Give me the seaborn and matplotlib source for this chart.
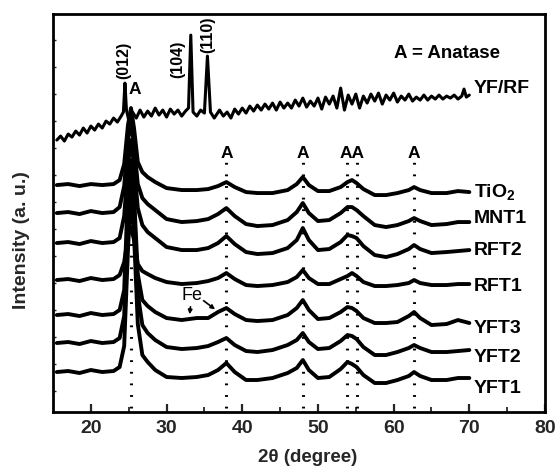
import numpy as np
import pandas as pd
import matplotlib
matplotlib.use("Agg")
import matplotlib.pyplot as plt
import seaborn as sns

sns.set_theme(style="ticks")
plt.rcParams["font.family"] = ["Liberation Sans", "DejaVu Sans"]
plt.rcParams["mathtext.fontset"] = "custom"
plt.rcParams["mathtext.rm"] = "Liberation Sans:bold"
plt.rcParams["mathtext.bf"] = "Liberation Sans:bold"

# ---------------- data (2theta in degree, intensity in a.u.) ----------------
two_theta = [15.5, 17, 18.5, 20, 21.5, 23, 23.8, 24.4, 24.9, 25.3, 25.7, 26.2, 26.8, 27.5,
             28.5, 30, 32, 34, 35.5, 36.8, 37.9, 39, 40.5, 42, 44, 46, 47.2, 48.0, 48.8,
             50, 51.5, 53, 53.9, 54.5, 55.1, 56, 57.5, 59, 60.5, 62, 62.7, 63.5, 65, 67,
             68.5, 70]

tio2 = [227, 228, 226, 228, 227, 228, 232, 248, 287, 304, 284, 250, 240, 235, 230, 224,
        222, 222, 223, 226, 230, 225, 220, 219, 219, 222, 228, 235, 227, 221, 221, 225,
        230, 232, 229, 223, 217, 217, 219, 222, 225, 222, 219, 219, 221, 220]
mnt1 = [199, 200, 198, 201, 199, 200, 205, 226, 272, 290, 267, 228, 214, 208, 202, 193,
        190, 191, 193, 198, 204, 196, 188, 186, 187, 192, 200, 209, 199, 191, 192, 199,
        205, 205, 202, 196, 187, 185, 187, 191, 194, 191, 187, 188, 190, 190]
rft2 = [169, 170, 168, 171, 169, 170, 174, 196, 247, 272, 247, 204, 187, 180, 174, 165,
        162, 162, 164, 169, 176, 168, 160, 158, 159, 164, 172, 184, 172, 162, 163, 170,
        177, 176, 174, 166, 157, 155, 158, 163, 167, 163, 159, 160, 161, 162]
rft1 = [132, 133, 131, 134, 132, 133, 137, 150, 176, 185, 172, 148, 141, 138, 134, 130,
        128, 129, 131, 134, 139, 133, 127, 126, 127, 130, 135, 142, 134, 128, 128, 133,
        136, 139, 136, 130, 126, 126, 127, 129, 132, 129, 127, 127, 128, 128]
yft3 = [97, 98, 96, 99, 97, 98, 102, 122, 222, 252, 217, 138, 112, 106, 100, 94,
        92, 94, 94, 100, 104, 98, 92, 91, 92, 97, 104, 112, 102, 93, 94, 100,
        105, 104, 101, 94, 89, 89, 90, 96, 100, 94, 87, 88, 92, 89]
yft2 = [69, 70, 68, 71, 69, 70, 74, 96, 202, 242, 207, 118, 87, 79, 72, 65,
        63, 64, 66, 70, 74, 67, 61, 60, 62, 67, 72, 79, 70, 63, 64, 71,
        77, 76, 73, 65, 57, 57, 60, 64, 67, 64, 60, 60, 61, 62]
yft1 = [40, 41, 39, 42, 40, 41, 45, 66, 162, 222, 177, 88, 57, 50, 42, 35,
        34, 35, 37, 42, 49, 40, 32, 32, 34, 39, 44, 52, 42, 34, 35, 43,
        50, 48, 45, 37, 29, 29, 32, 36, 40, 36, 32, 32, 34, 34]

yfrf_theta = [15.5, 16, 16.5, 17, 17.5, 18, 18.5, 19, 19.5, 20, 20.5, 21, 21.5, 22, 22.5,
              23, 23.5, 24, 24.3, 24.5, 24.7, 25, 25.5, 26, 26.5, 27, 27.5, 28, 28.5, 29,
              29.5, 30, 30.5, 31, 31.5, 32, 32.5, 32.9, 33.2, 33.5, 34, 34.5, 35.0, 35.4,
              35.8, 36.3, 37, 37.5, 38, 38.5, 39, 39.5, 40, 40.5, 41, 41.5, 42, 42.5, 43,
              43.5, 44, 44.5, 45, 45.5, 46, 46.5, 47, 47.5, 48, 48.5, 49, 49.5, 50, 50.5,
              51, 51.5, 52, 52.5, 53, 53.5, 54, 54.5, 55, 55.5, 56, 56.5, 57, 57.5, 58,
              58.5, 59, 59.5, 60, 60.5, 61, 61.5, 62, 62.5, 63, 63.5, 64, 64.5, 65, 65.5,
              66, 66.5, 67, 67.5, 68, 68.5, 69, 69.3, 69.6, 70]
yfrf = [272, 276, 271, 278, 275, 281, 277, 284, 279, 286, 282, 288, 284, 291, 288,
        294, 290, 296, 300, 329, 302, 292, 300, 294, 302, 295, 301, 296, 304, 297,
        302, 295, 303, 298, 302, 296, 301, 304, 377, 300, 296, 302, 299, 356,
        300, 294, 302, 296, 300, 294, 303, 298, 304, 299, 306, 301, 307, 302, 308,
        303, 309, 302, 310, 304, 309, 304, 312, 306, 314, 305, 311, 306, 314, 303,
        315, 308, 316, 304, 324, 302, 317, 308, 318, 304, 316, 309, 318, 311, 319,
        308, 317, 312, 319, 310, 316, 312, 318, 311, 315, 312, 317, 312, 316, 313,
        317, 313, 316, 314, 317, 313, 316, 323, 315, 317]

sample_names = ["YF/RF", "TiO$_2$", "MNT1", "RFT2", "RFT1", "YFT3", "YFT2", "YFT1"]
label_levels = [324, 219, 194, 162, 126, 84, 55, 24]

anatase_pos = [25.3, 37.9, 48.0, 53.9, 55.1, 62.7]
hkl_labels = ["(012)", "(104)", "(110)"]
hkl_pos = [24.3, 31.5, 35.4]
hkl_levels = [352, 353, 377]

# ---------------- figure ----------------
fig = plt.figure(figsize=(5.57, 4.70), dpi=100)
ax = fig.add_axes([0.0952, 0.1234, 0.8833, 0.8466])

traces = [tio2, mnt1, rft2, rft1, yft3, yft2, yft1]
for tr in traces:
    sns.lineplot(x=two_theta, y=tr, ax=ax, color="black", lw=2.8, sort=False,
                 estimator=None)
sns.lineplot(x=yfrf_theta, y=yfrf, ax=ax, color="black", lw=2.2, sort=False,
             estimator=None)

# dotted reference lines (anatase)
for i, p in enumerate(anatase_pos):
    top = 262 if i == 0 else 250
    ax.plot([p, p], [4, top], color="black", lw=2.2, linestyle=(0, (0.6, 3.2)),
            dash_capstyle="butt", zorder=1)

bold = dict(fontweight="bold", color="black")
# A labels
ax.text(25.75, 323, "A", ha="center", va="center", fontsize=12.5, **bold)
for p in [37.9, 48.0, 62.7]:
    ax.text(p, 259, "A", ha="center", va="center", fontsize=12.5, **bold)
ax.text(54.45, 259, "AA", ha="center", va="center", fontsize=12.5, **bold)
ax.text(67.1, 359, "A = Anatase", ha="center", va="center", fontsize=13.5, **bold)

for lab, p, lv in zip(hkl_labels, hkl_pos, hkl_levels):
    ax.text(p, lv, lab, rotation=90, ha="center", va="center", fontsize=11.5, **bold)

for name, lv in zip(sample_names, label_levels):
    ax.text(70.6, lv, name, ha="left", va="center", fontsize=14, **bold)

# Fe annotation
ax.text(33.3, 117, "Fe", ha="center", va="center", fontsize=13, color="black")
ax.annotate("", xy=(33.0, 95), xytext=(33.2, 108),
            arrowprops=dict(arrowstyle="-|>", color="black", lw=1.2, mutation_scale=6))
ax.annotate("", xy=(36.7, 101), xytext=(34.6, 113),
            arrowprops=dict(arrowstyle="-|>", color="black", lw=1.2, mutation_scale=6))

ax.set_xlim(15, 80)
ax.set_ylim(0, 398)
ax.set_xticks([20, 30, 40, 50, 60, 70, 80])
ax.set_xticks([25, 35, 45, 55, 65, 75], minor=True)
ax.set_yticks(np.arange(21, 380, 27))
ax.set_yticklabels([])
ax.tick_params(axis="x", which="major", direction="in", length=6, width=1.6,
               labelsize=14, pad=6)
ax.tick_params(axis="x", which="minor", direction="in", length=3.5, width=1.3)
ax.tick_params(axis="y", which="major", direction="in", length=2.5, width=1.0)
for lab in ax.get_xticklabels():
    lab.set_fontweight("bold")
for s in ax.spines.values():
    s.set_linewidth(2.0)
    s.set_color("black")

ax.set_xlabel("2\u03b8 (degree)", fontsize=13.5, fontweight="bold")
ax.set_ylabel("Intensity (a. u.)", fontsize=14, fontweight="bold")
ax.xaxis.set_label_coords(0.518, -0.092)
ax.yaxis.set_label_coords(-0.047, 0.432)

fig.savefig("out.png", dpi=100)
